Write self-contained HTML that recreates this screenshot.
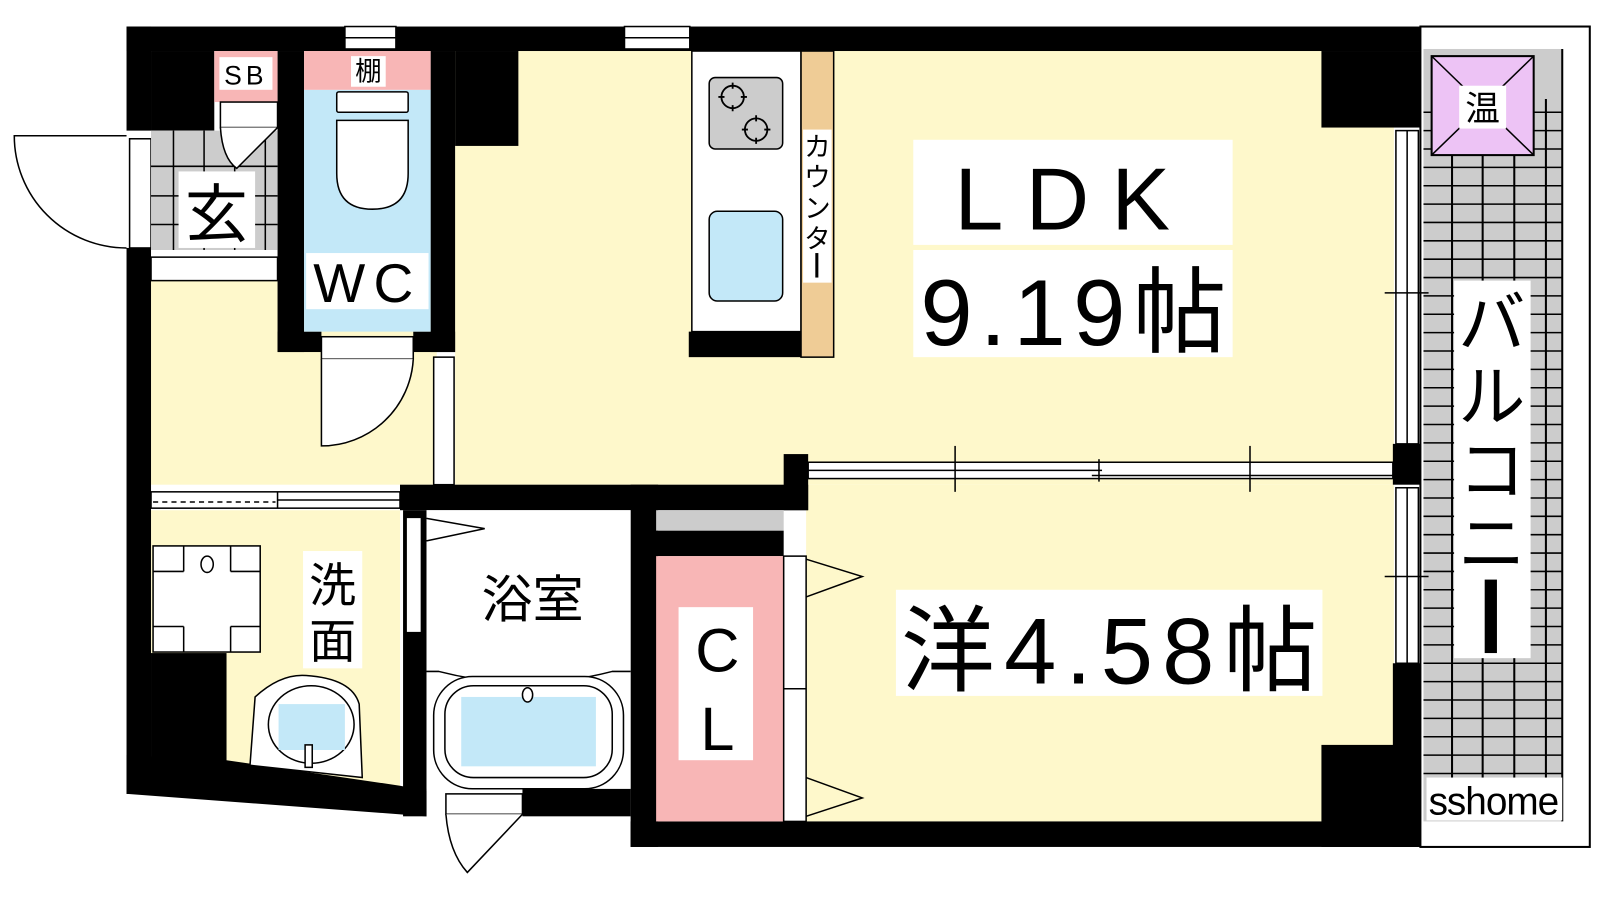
<!DOCTYPE html>
<html><head><meta charset="utf-8"><style>
html,body{margin:0;padding:0;background:#fff;width:1600px;height:900px;overflow:hidden}
svg{display:block}
text{font-family:"Liberation Sans","Noto Sans CJK JP",sans-serif;fill:#000}
</style></head><body>
<svg width="1600" height="900" viewBox="0 0 1568 882" xmlns="http://www.w3.org/2000/svg">
<!-- balcony -->
<rect x="1392" y="26" width="166" height="804" fill="#fff" stroke="#000" stroke-width="2"/>
<rect x="1395" y="48" width="136" height="757" fill="#ccc"/>
<g stroke="#000" stroke-width="2">
<line x1="1423" y1="97" x2="1423" y2="790"/><line x1="1453" y1="97" x2="1453" y2="790"/><line x1="1484" y1="97" x2="1484" y2="790"/><line x1="1515" y1="97" x2="1515" y2="790"/>
<line x1="1531" y1="48" x2="1531" y2="805"/>
</g>
<g stroke="#000" stroke-width="1.5">
<line x1="1395" y1="110" x2="1531" y2="110"/><line x1="1395" y1="128" x2="1531" y2="128"/><line x1="1395" y1="146" x2="1531" y2="146"/><line x1="1395" y1="164" x2="1531" y2="164"/><line x1="1395" y1="182" x2="1531" y2="182"/><line x1="1395" y1="200" x2="1531" y2="200"/><line x1="1395" y1="218" x2="1531" y2="218"/><line x1="1395" y1="236" x2="1531" y2="236"/><line x1="1395" y1="254" x2="1531" y2="254"/><line x1="1395" y1="272" x2="1531" y2="272"/><line x1="1395" y1="290" x2="1531" y2="290"/><line x1="1395" y1="308" x2="1531" y2="308"/><line x1="1395" y1="326" x2="1531" y2="326"/><line x1="1395" y1="344" x2="1531" y2="344"/><line x1="1395" y1="362" x2="1531" y2="362"/><line x1="1395" y1="380" x2="1531" y2="380"/><line x1="1395" y1="398" x2="1531" y2="398"/><line x1="1395" y1="416" x2="1531" y2="416"/><line x1="1395" y1="434" x2="1531" y2="434"/><line x1="1395" y1="452" x2="1531" y2="452"/><line x1="1395" y1="470" x2="1531" y2="470"/><line x1="1395" y1="488" x2="1531" y2="488"/><line x1="1395" y1="506" x2="1531" y2="506"/><line x1="1395" y1="524" x2="1531" y2="524"/><line x1="1395" y1="542" x2="1531" y2="542"/><line x1="1395" y1="560" x2="1531" y2="560"/><line x1="1395" y1="578" x2="1531" y2="578"/><line x1="1395" y1="596" x2="1531" y2="596"/><line x1="1395" y1="614" x2="1531" y2="614"/><line x1="1395" y1="632" x2="1531" y2="632"/><line x1="1395" y1="650" x2="1531" y2="650"/><line x1="1395" y1="668" x2="1531" y2="668"/><line x1="1395" y1="686" x2="1531" y2="686"/><line x1="1395" y1="704" x2="1531" y2="704"/><line x1="1395" y1="722" x2="1531" y2="722"/><line x1="1395" y1="740" x2="1531" y2="740"/><line x1="1395" y1="758" x2="1531" y2="758"/>
</g>
<rect x="1403" y="55" width="100" height="97" fill="#edc3f5" stroke="#000" stroke-width="2"/>
<line x1="1403" y1="55" x2="1503" y2="152" stroke="#000" stroke-width="1.5"/><line x1="1503" y1="55" x2="1403" y2="152" stroke="#000" stroke-width="1.5"/>
<rect x="1430" y="84" width="46" height="42" fill="#fff"/>
<text x="1453" y="118" font-size="34" text-anchor="middle">温</text>
<rect x="1425" y="275" width="75" height="370" fill="#fff"/>
<text x="1462" y="340" font-size="66" text-anchor="middle">バ</text>
<text x="1462" y="412" font-size="66" text-anchor="middle">ル</text>
<text x="1462" y="484" font-size="66" text-anchor="middle">コ</text>
<text x="1462" y="556" font-size="66" text-anchor="middle">ニ</text>
<rect x="1455" y="568" width="12" height="72" fill="#000"/>
<rect x="1398" y="762" width="133" height="42" fill="#fff"/>
<text x="1400" y="798" font-size="38" textLength="128">sshome</text>

<!-- floors -->
<rect x="446" y="50" width="920" height="425" fill="#fef8cb"/>
<rect x="790" y="475" width="576" height="330" fill="#fef8cb"/>
<rect x="148" y="275" width="280" height="200" fill="#fef8cb"/>
<polygon points="148,500 392,500 392,772 222,748 148,740" fill="#fef8cb"/>

<!-- walls -->
<g fill="#000">
<rect x="124" y="26" width="1268" height="24"/>
<rect x="124" y="26" width="24" height="102"/>
<rect x="124" y="243" width="24" height="535"/>
<rect x="148" y="50" width="62" height="78"/>
<rect x="272" y="50" width="26" height="295"/>
<rect x="422" y="50" width="24" height="295"/>
<rect x="446" y="50" width="62" height="93"/>
<rect x="272" y="325" width="43" height="20"/>
<rect x="405" y="325" width="41" height="20"/>
<rect x="1295" y="50" width="97" height="75"/>
<rect x="1365" y="435" width="27" height="40"/>
<rect x="1365" y="650" width="27" height="180"/>
<rect x="1295" y="730" width="97" height="100"/>
<rect x="618" y="805" width="774" height="25"/>
<rect x="768" y="445" width="24" height="55"/>
<rect x="392" y="475" width="400" height="25"/>
<rect x="395" y="500" width="23" height="300"/>
<rect x="618" y="475" width="27" height="355"/>
<rect x="643" y="520" width="125" height="25"/>
<rect x="512" y="773" width="106" height="27"/>
<rect x="148" y="640" width="74" height="110"/>
<polygon points="124,740 222,745 392,770 418,775 418,800 124,778"/>
<rect x="675" y="325" width="120" height="25"/>
</g>
<!-- windows top -->
<g stroke="#000" stroke-width="1.5" fill="#fff">
<rect x="612" y="26" width="64" height="22"/><line x1="612" y1="37" x2="676" y2="37"/>
<rect x="338" y="26" width="50" height="22"/><line x1="338" y1="37" x2="388" y2="37"/>
</g>
<!-- entrance -->
<rect x="127" y="136" width="21" height="107" fill="#fff" stroke="#000" stroke-width="1.5"/>
<path d="M124,243 A110,110 0 0 1 14,133 L124,133" fill="#fff" stroke="#000" stroke-width="1.5"/>
<rect x="148" y="128" width="124" height="117" fill="#ccc"/>
<g stroke="#000" stroke-width="1.5">
<line x1="148" y1="163" x2="272" y2="163"/><line x1="148" y1="192" x2="272" y2="192"/><line x1="148" y1="220" x2="272" y2="220"/>
<line x1="170" y1="128" x2="170" y2="245"/><line x1="200" y1="128" x2="200" y2="245"/><line x1="230" y1="128" x2="230" y2="245"/><line x1="260" y1="128" x2="260" y2="245"/>
</g>
<rect x="148" y="252" width="124" height="23" fill="#fff" stroke="#000" stroke-width="1.5"/>
<rect x="210" y="50" width="62" height="50" fill="#f8b6b6"/>
<rect x="215" y="56" width="52" height="32" fill="#fff"/>
<text x="241" y="83" font-size="26" text-anchor="middle" letter-spacing="4">SB</text>
<rect x="216" y="100" width="56" height="25" fill="#fff" stroke="#000" stroke-width="1.5"/>
<path d="M216,125 Q218,155 232,165 L272,125" fill="#fff" stroke="#000" stroke-width="1.5"/>
<rect x="175" y="168" width="75" height="75" fill="#fff"/>
<text x="212" y="232" font-size="62" text-anchor="middle">玄</text>
<!-- WC -->
<rect x="298" y="88" width="124" height="237" fill="#c3e8f8"/>
<rect x="298" y="50" width="124" height="38" fill="#f8b6b6"/>
<rect x="344" y="55" width="34" height="30" fill="#fff"/>
<text x="361" y="79" font-size="26" text-anchor="middle">棚</text>
<rect x="330" y="90" width="70" height="20" fill="#fff" stroke="#000" stroke-width="1.5" rx="2"/>
<path d="M330,118 L400,118 L400,170 Q400,205 365,205 Q330,205 330,170 Z" fill="#fff" stroke="#000" stroke-width="1.5"/>
<rect x="300" y="248" width="120" height="55" fill="#fff"/>
<text x="360" y="296" font-size="54" text-anchor="middle" letter-spacing="8">WC</text>
<rect x="315" y="330" width="90" height="22" fill="#fff" stroke="#000" stroke-width="1.5"/>
<path d="M315,352 L315,437 A90,90 0 0 0 405,352" fill="#fff" stroke="#000" stroke-width="1.5"/>
<rect x="425" y="350" width="20" height="125" fill="#fff" stroke="#000" stroke-width="1.5"/>
<!-- hall/wash sliding -->
<rect x="148" y="482" width="244" height="16" fill="#fff" stroke="#000" stroke-width="1.5"/>
<line x1="272" y1="482" x2="272" y2="498" stroke="#000" stroke-width="1.5"/>
<line x1="272" y1="490" x2="392" y2="490" stroke="#000" stroke-width="1.5"/>
<line x1="150" y1="492" x2="270" y2="492" stroke="#000" stroke-width="1.5" stroke-dasharray="5,4"/>
<!-- kitchen -->
<rect x="678" y="50" width="107" height="275" fill="#fff" stroke="#000" stroke-width="1.5"/>
<rect x="785" y="50" width="32" height="300" fill="#efcc96" stroke="#000" stroke-width="1.5"/>
<rect x="787" y="127" width="28" height="150" fill="#fff"/>
<g font-size="26" text-anchor="middle">
<text x="801" y="153">カ</text><text x="801" y="183">ウ</text><text x="801" y="213">ン</text><text x="801" y="243">タ</text>
</g>
<rect x="799" y="248" width="3" height="24" fill="#000"/>
<rect x="695" y="76" width="72" height="70" rx="6" fill="#ccc" stroke="#000" stroke-width="1.5"/>
<g fill="none" stroke="#000" stroke-width="1.8"><circle cx="718" cy="95" r="11"/><circle cx="741" cy="127" r="11"/>
<path d="M718,81v6M718,103v6M704,95h6M726,95h6M741,113v6M741,135v6M727,127h6M749,127h6"/></g>
<rect x="695" y="207" width="72" height="88" rx="8" fill="#c3e8f8" stroke="#000" stroke-width="1.5"/>
<!-- partition -->
<g stroke="#000" stroke-width="1.5" fill="#fff">
<rect x="792" y="453" width="573" height="16"/>
<line x1="792" y1="461" x2="1080" y2="461"/><line x1="1070" y1="466" x2="1365" y2="466"/>
</g>
<g stroke="#000" stroke-width="1.5"><line x1="936" y1="437" x2="936" y2="482"/><line x1="1225" y1="437" x2="1225" y2="482"/><line x1="1077" y1="450" x2="1077" y2="472"/></g>
<!-- right windows -->
<g stroke="#000" stroke-width="1.5" fill="#fff">
<rect x="1368" y="128" width="22" height="307"/><line x1="1379" y1="128" x2="1379" y2="435"/>
<rect x="1368" y="478" width="22" height="172"/><line x1="1379" y1="478" x2="1379" y2="650"/>
<line x1="1357" y1="287" x2="1400" y2="287"/><line x1="1357" y1="565" x2="1400" y2="565"/>
</g>
<!-- bath -->
<rect x="418" y="500" width="200" height="273" fill="#fff"/>
<rect x="398" y="507" width="15" height="113" fill="#fff" stroke="#000" stroke-width="1.5"/>
<polyline points="418,508 475,518 418,530" fill="none" stroke="#000" stroke-width="1.5"/>
<path d="M418,658 L430,658 Q515,680 600,658 L618,658" fill="none" stroke="#000" stroke-width="1.5"/>
<rect x="425" y="663" width="186" height="110" rx="38" fill="#fff" stroke="#000" stroke-width="1.5"/>
<rect x="436" y="672" width="164" height="90" rx="28" fill="#fff" stroke="#000" stroke-width="1.5"/>
<rect x="452" y="683" width="132" height="68" fill="#c3e8f8"/>
<ellipse cx="517" cy="681" rx="5" ry="7" fill="#fff" stroke="#000" stroke-width="1.5"/>
<text x="522" y="605" font-size="50" text-anchor="middle">浴室</text>
<rect x="437" y="778" width="75" height="20" fill="#fff" stroke="#000" stroke-width="1.5"/>
<path d="M437,798 Q440,835 458,855 L512,798" fill="#fff" stroke="#000" stroke-width="1.5"/>
<!-- wash -->
<rect x="150" y="535" width="105" height="104" fill="#fff" stroke="#000" stroke-width="1.5"/>
<g stroke="#000" stroke-width="1.5" fill="none"><line x1="180" y1="535" x2="180" y2="560"/><line x1="226" y1="535" x2="226" y2="560"/><line x1="150" y1="560" x2="180" y2="560"/><line x1="226" y1="560" x2="255" y2="560"/><line x1="180" y1="614" x2="180" y2="639"/><line x1="226" y1="614" x2="226" y2="639"/><line x1="150" y1="614" x2="180" y2="614"/><line x1="226" y1="614" x2="255" y2="614"/></g>
<ellipse cx="203" cy="553" rx="6" ry="8" fill="#fff" stroke="#000" stroke-width="1.5"/>
<rect x="297" y="540" width="58" height="115" fill="#fff"/>
<text x="326" y="590" font-size="46" text-anchor="middle">洗</text>
<text x="326" y="645" font-size="46" text-anchor="middle">面</text>
<path d="M250,683 Q275,660 300,662 Q345,665 352,690 L355,762 L245,750 Z" fill="#fff" stroke="#000" stroke-width="1.5"/>
<ellipse cx="305" cy="710" rx="42" ry="38" fill="#fff" stroke="#000" stroke-width="1.5"/>
<rect x="273" y="690" width="65" height="45" fill="#c3e8f8"/>
<rect x="299" y="730" width="7" height="22" fill="#fff" stroke="#000" stroke-width="1.5"/>
<!-- CL -->
<rect x="643" y="500" width="125" height="20" fill="#ccc"/>
<rect x="643" y="545" width="125" height="260" fill="#f8b6b6"/>
<rect x="768" y="545" width="22" height="260" fill="#fff" stroke="#000" stroke-width="1.5"/>
<line x1="768" y1="675" x2="790" y2="675" stroke="#000" stroke-width="1.5"/>
<polyline points="790,548 845,565 790,585" fill="none" stroke="#000" stroke-width="1.5"/>
<polyline points="790,762 845,782 790,800" fill="none" stroke="#000" stroke-width="1.5"/>
<rect x="665" y="595" width="73" height="150" fill="#fff"/>
<text x="703" y="658" font-size="60" text-anchor="middle">C</text>
<text x="703" y="735" font-size="60" text-anchor="middle">L</text>
<!-- labels -->
<rect x="895" y="137" width="313" height="103" fill="#fff"/>
<text x="1052" y="225" font-size="86" text-anchor="middle" letter-spacing="22">LDK</text>
<rect x="895" y="245" width="313" height="105" fill="#fff"/>
<text x="1052" y="338" font-size="92" text-anchor="middle" textLength="300">9.19帖</text>
<rect x="878" y="578" width="418" height="104" fill="#fff"/>
<text x="1087" y="670" font-size="92" text-anchor="middle" textLength="408">洋4.58帖</text>
</svg>
</body></html>
